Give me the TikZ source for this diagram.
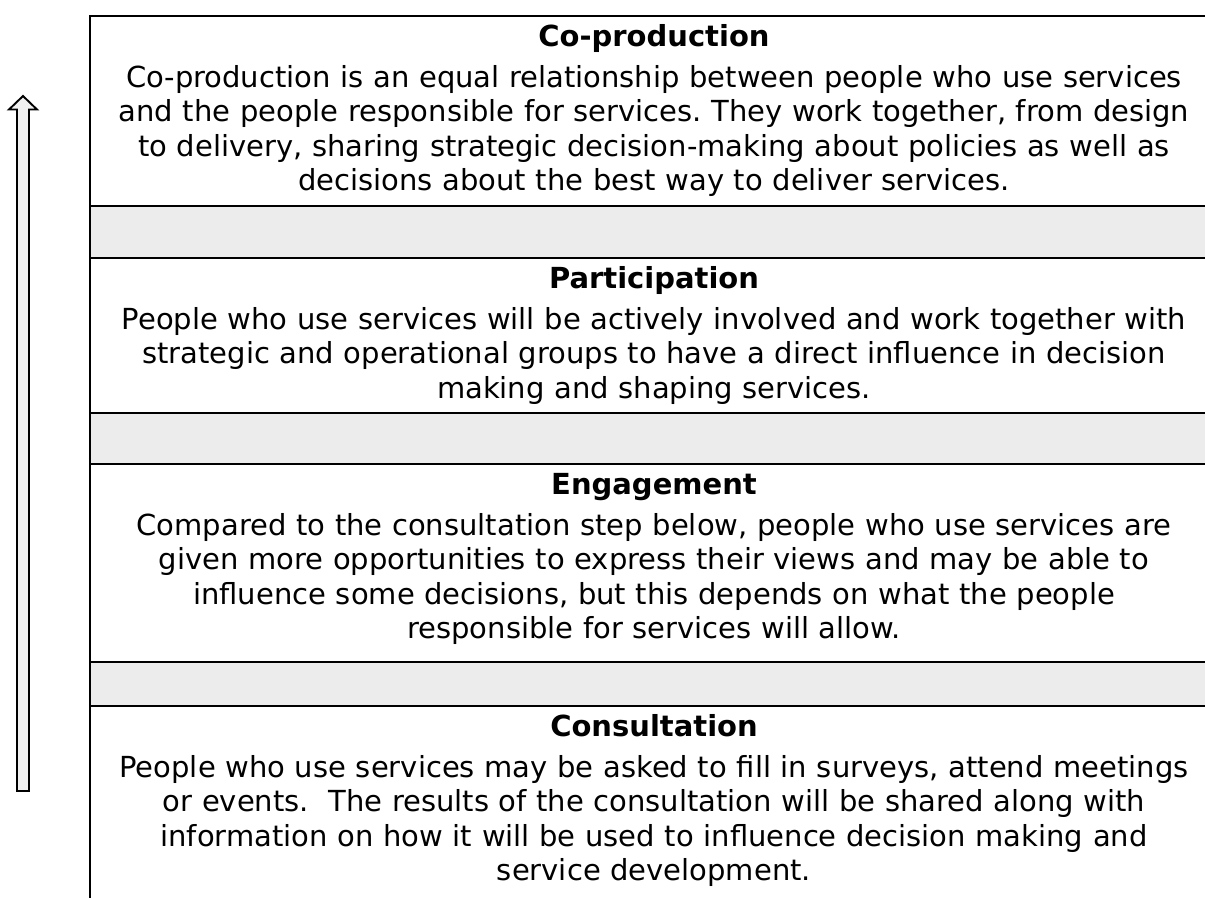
\documentclass[tikz,border=0pt]{standalone}
\usepackage{fontspec}
\setmainfont{DejaVu Sans}
\frenchspacing
\usetikzlibrary{positioning}
\definecolor{bandgrey}{RGB}{236,236,236}
\definecolor{arrowgrey}{RGB}{240,240,240}
\tikzset{
  rowtitle/.style={anchor=base, inner sep=0pt, font=\fontsize{29}{34.5}\selectfont\bfseries},
  rowtext/.style={anchor=base, inner sep=0pt, text width=1150pt, align=center,
    font=\fontsize{29}{34.5}\selectfont},
  tablerule/.style={line width=1.5pt, color=black},
  band/.style={fill=bandgrey, draw=none},
  ladder/.style={fill=arrowgrey, draw=black, line width=1.9pt, line join=miter}
}

\begin{document}
\begin{tikzpicture}[x=1pt, y=-1pt]
  \useasboundingbox (0,0) rectangle (1205,898);
  % grey separator bands
  \foreach \top/\bot in {206/258, 413/464, 662/706} {
    \fill[band] (90,\top) rectangle (1205,\bot);
    \draw[tablerule] (90,\top) -- (1205,\top);
    \draw[tablerule] (90,\bot) -- (1205,\bot);
  }
  % table frame
  \draw[tablerule] (1205,16) -- (90,16) -- (90,898);
  % upward arrow
  \draw[ladder] (17,791) -- (17,109.5) -- (9,109.5) -- (23,96) -- (37,109.5)
    -- (29,109.5) -- (29,791) -- cycle;

  % Co-production
  \node[rowtitle] (coprodtitle) at (654,46) {Co-production};
  \node[rowtext] (coprod) at (654,87) {Co-production is an equal relationship between people who use services\\
    and the people responsible for services. They work together, from design\\
    to delivery, sharing strategic decision-making about policies as well as\\
    decisions about the best way to deliver services.};
  % Participation
  \node[rowtitle] (partictitle) at (654,288) {Participation};
  \node[rowtext] (partic) at (654,329) {People who use services will be actively involved and work together with\\
    strategic and operational groups to have a direct influence in decision\\
    making and shaping services.};
  % Engagement
  \node[rowtitle] (engagetitle) at (654,494) {Engagement};
  \node[rowtext] (engage) at (654,535) {Compared to the consultation step below, people who use services are\\
    given more opportunities to express their views and may be able to\\
    influence some decisions, but this depends on what the people\\
    responsible for services will allow.};
  % Consultation
  \node[rowtitle] (consulttitle) at (654,736) {Consultation};
  \node[rowtext] (consult) at (654,777) {People who use services may be asked to fill in surveys, attend meetings\\
    or events.\ \ The results of the consultation will be shared along with\\
    information on how it will be used to influence decision making and\\
    service development.};
\end{tikzpicture}
\end{document}
